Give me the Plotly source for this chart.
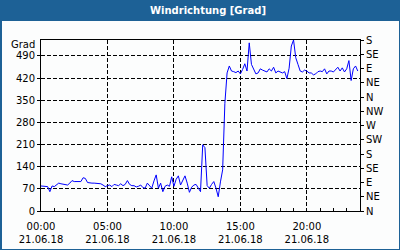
import plotly.graph_objects as go
import pandas as pd

# wind direction, 10-minute samples on 21.06.18 (degrees)
direction = [
    79, 79, 79, 77, 61, 79,
    77, 82, 88, 86, 84, 82,
    82, 88, 96, 93, 93, 93,
    93, 105, 103, 90, 88, 88,
    88, 88, 87, 86, 82, 77,
    80, 82, 77, 84, 82, 80,
    86, 80, 84, 96, 84, 80,
    80, 76, 78, 82, 74, 72,
    88, 80, 72, 95, 114, 72,
    88, 61, 78, 82, 78, 108,
    78, 100, 111, 82, 95, 111,
    88, 59, 75, 82, 84, 70,
    61, 209, 200, 80, 72, 84,
    93, 72, 45, 92, 130, 340,
    436, 458, 442, 440, 437, 442,
    433, 447, 465, 442, 531, 463,
    449, 433, 436, 449, 445, 442,
    439, 449, 442, 454, 436, 442,
    438, 436, 440, 418, 451, 521,
    540, 484, 463, 442, 439, 445,
    442, 436, 436, 430, 433, 440,
    442, 440, 449, 433, 442, 442,
    439, 446, 454, 442, 452, 439,
    449, 475, 412, 449, 458, 442,
]
times = pd.date_range("2018-06-21 00:00", periods=len(direction), freq="10min")

x_tick_times = ["2018-06-21 00:00", "2018-06-21 05:00", "2018-06-21 10:00",
                "2018-06-21 15:00", "2018-06-21 20:00"]
x_tick_text = ["00:00<br>21.06.18", "05:00<br>21.06.18", "10:00<br>21.06.18",
               "15:00<br>21.06.18", "20:00<br>21.06.18"]
y_left_ticks = [0, 70, 140, 210, 280, 350, 420, 490]
y_right_ticks = [0, 45, 90, 135, 180, 225, 270, 315, 360, 405, 450, 495, 540]
y_right_text = ["N", "NE", "E", "SE", "S", "SW", "W", "NW", "N", "NE", "E", "SE", "S"]

W, H = 400, 250
L, R, T, B = 41, 40, 40, 39
pw, ph = W - L - R, H - T - B
BLUE = "#1d6196"
FONT = "DejaVu Sans"


def px(xp):
    return (xp - L) / pw


def py(yp):
    return (H - B - yp) / ph


fig = go.Figure()
fig.add_trace(go.Scatter(x=times, y=direction, mode="lines",
                         line=dict(color="#0000ff", width=1),
                         hoverinfo="skip", showlegend=False))
# invisible trace to activate right axis
fig.add_trace(go.Scatter(x=[times[0]], y=[0], yaxis="y2", mode="markers",
                         marker=dict(opacity=0), showlegend=False, hoverinfo="skip"))

fig.update_layout(
    width=W, height=H,
    margin=dict(l=L, r=R, t=T, b=B, pad=0, autoexpand=False),
    paper_bgcolor=BLUE,
    plot_bgcolor="rgba(0,0,0,0)",
    font=dict(family=FONT, size=10, color="#000000"),
    title=dict(text="<b>Windrichtung [Grad]</b>", x=208 / W, xref="container",
               xanchor="center", y=1 - 10.5 / H, yref="container", yanchor="middle",
               font=dict(family=FONT, size=10, color="#ffffff")),
    xaxis=dict(
        range=["2018-06-21 00:00", "2018-06-22 00:00"],
        tickvals=x_tick_times, ticktext=x_tick_text,
        ticks="inside", ticklen=3, tickcolor="#000000",
        showgrid=True, gridcolor="#000000", gridwidth=1, griddash="4px,2px",
        showline=True, linecolor="#000000", linewidth=1, mirror=True,
        zeroline=False, ticklabelstandoff=6, automargin=False,
        minor=dict(dtick=3600000, ticks="inside", ticklen=3, tickcolor="#000000",
                   showgrid=False),
    ),
    yaxis=dict(
        range=[0, 540], tickvals=y_left_ticks,
        ticks="outside", ticklen=3, tickcolor="#000000",
        showgrid=True, gridcolor="#000000", gridwidth=1, griddash="4px,2px",
        showline=True, linecolor="#000000", linewidth=1, mirror=True,
        zeroline=False, automargin=False,
    ),
    yaxis2=dict(
        range=[0, 540], tickvals=y_right_ticks, ticktext=y_right_text,
        overlaying="y", side="right",
        ticks="outside", ticklen=3, tickcolor="#000000",
        showgrid=False, showline=True, linecolor="#000000", linewidth=1,
        zeroline=False, automargin=False,
    ),
    shapes=[
        dict(type="rect", xref="paper", yref="paper", layer="below",
             x0=px(2), x1=px(W - 1), y0=py(21), y1=py(H - 1),
             fillcolor="#fcfdfd", line=dict(width=0)),
    ],
    annotations=[
        dict(text="Grad", xref="paper", yref="paper", x=px(37), y=py(44),
             xanchor="right", yanchor="middle", showarrow=False,
             font=dict(family=FONT, size=10, color="#000000")),
    ],
)

fig.write_html("out.html")
